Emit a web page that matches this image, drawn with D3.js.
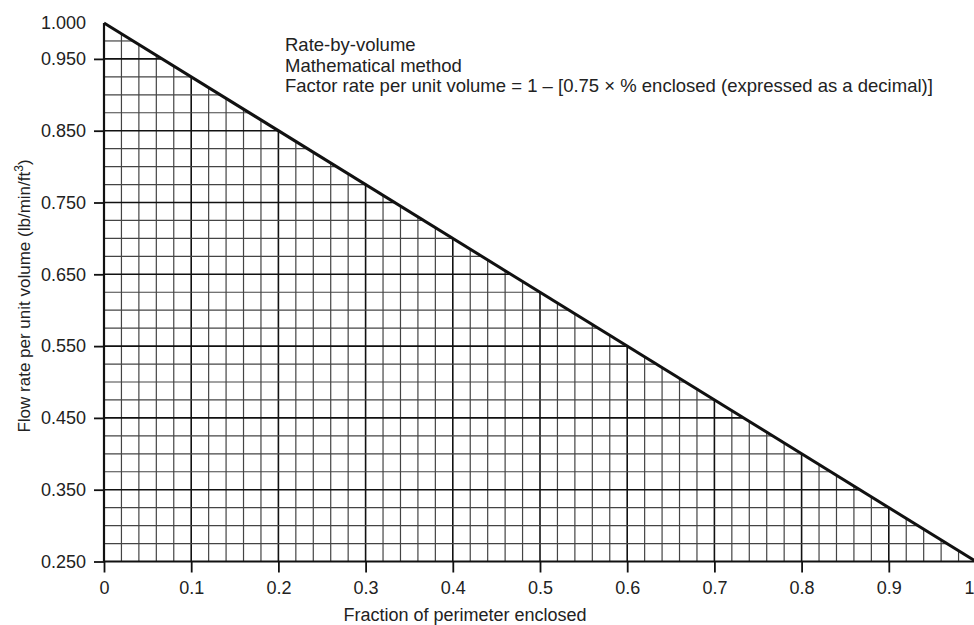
<!DOCTYPE html>
<html>
  <head>
    <style>
      body { margin: 0; background: #fff; }
      svg { display: block; font-family: 'Liberation Sans', Arial, sans-serif; }
    </style>
  </head>
  <body>
    <div class="chart"></div>
    <script src="https://d3js.org/d3.v7.min.js"></script>
    <script>
      // chart values
      var xTicks = [0, 0.1, 0.2, 0.3, 0.4, 0.5, 0.6, 0.7, 0.8, 0.9, 1];
      var xTickLabels = ['0', '0.1', '0.2', '0.3', '0.4', '0.5', '0.6', '0.7', '0.8', '0.9', '1'];
      var yTicks = [1.0, 0.95, 0.85, 0.75, 0.65, 0.55, 0.45, 0.35, 0.25];
      var yTickLabels = ['1.000', '0.950', '0.850', '0.750', '0.650', '0.550', '0.450', '0.350', '0.250'];
      var lineX = [0, 1];
      var lineY = [1.0, 0.25];
      var notes = ['Rate-by-volume', 'Mathematical method',
        'Factor rate per unit volume = 1 \u2013 [0.75 \u00d7 % enclosed (expressed as a decimal)]'];

      var width = 974, height = 625;
      var svg = d3.select('.chart').append('svg')
        .attr('width', width)
        .attr('height', height);

      var x = d3.scaleLinear().domain([0, 1]).range([104, 976]);
      var y = d3.scaleLinear().domain([0.25, 1]).range([561.5, 23]);

      // the sloped line, used to stop grid lines under it
      var lineAt = d3.scaleLinear().domain(lineX).range(lineY);
      var xAtY = d3.scaleLinear().domain(lineY).range(lineX);

      var gridX = d3.range(1, 50).map(function(i) { return i * 0.02; });
      var gridY = d3.range(1, 30).map(function(i) { return 0.25 + i * 0.025; });
      var isMajorX = function(v) { return Math.abs(v * 10 - Math.round(v * 10)) < 1e-6; };
      var isMajorY = function(v) { return Math.abs((v - 0.05) * 10 - Math.round((v - 0.05) * 10)) < 1e-6; };

      var grid = svg.append('g').attr('class', 'grid');
      grid.selectAll('line.v').data(gridX).enter().append('line')
        .attr('class', 'v')
        .attr('x1', function(d) { return x(d); })
        .attr('x2', function(d) { return x(d); })
        .attr('y1', y(0.25))
        .attr('y2', function(d) { return y(lineAt(d)); })
        .attr('stroke', function(d) { return isMajorX(d) ? '#111' : '#444'; })
        .attr('stroke-width', function(d) { return isMajorX(d) ? 1.6 : 1.2; });

      grid.selectAll('line.h').data(gridY).enter().append('line')
        .attr('class', 'h')
        .attr('x1', x(0))
        .attr('x2', function(d) { return x(xAtY(d)); })
        .attr('y1', function(d) { return y(d); })
        .attr('y2', function(d) { return y(d); })
        .attr('stroke', function(d) { return isMajorY(d) ? '#111' : '#444'; })
        .attr('stroke-width', function(d) { return isMajorY(d) ? 1.6 : 1.2; });

      // axes
      var xAxis = d3.axisBottom(x).tickValues(xTicks)
        .tickFormat(function(d, i) { return xTickLabels[i]; })
        .tickSize(11).tickPadding(9);
      var gX = svg.append('g')
        .attr('transform', 'translate(0,' + y(0.25) + ')')
        .call(xAxis);

      var yAxis = d3.axisLeft(y).tickValues(yTicks)
        .tickFormat(function(d, i) { return yTickLabels[i]; })
        .tickSize(10).tickPadding(8);
      var gY = svg.append('g')
        .attr('transform', 'translate(' + x(0) + ',0)')
        .call(yAxis);

      [gX, gY].forEach(function(g) {
        g.select('.domain').remove();
        g.selectAll('.tick line').attr('stroke', '#111').attr('stroke-width', 1.8);
        g.selectAll('.tick text').attr('fill', '#222').style('font-size', '18px');
      });
      // no tick mark at 1.000
      gY.selectAll('.tick').filter(function(d) { return d === 1.0; }).select('line').remove();
      // keep the last x label inside the page edge
      gX.selectAll('.tick').filter(function(d) { return d === 1; }).select('text')
        .attr('text-anchor', 'end').attr('x', 974 - x(1));

      svg.append('line')
        .attr('x1', x(0)).attr('x2', x(1))
        .attr('y1', y(0.25)).attr('y2', y(0.25))
        .attr('stroke', '#111').attr('stroke-width', 2.2);
      svg.append('line')
        .attr('x1', x(0)).attr('x2', x(0))
        .attr('y1', y(0.25)).attr('y2', y(1))
        .attr('stroke', '#111').attr('stroke-width', 2.2);

      // the line itself
      var line = d3.line()
        .x(function(d) { return x(d[0]); })
        .y(function(d) { return y(d[1]); });
      svg.append('path')
        .datum(d3.zip(lineX, lineY))
        .attr('d', line)
        .attr('fill', 'none')
        .attr('stroke', '#111')
        .attr('stroke-width', 3);

      // annotation
      svg.append('g').selectAll('text').data(notes).enter().append('text')
        .attr('x', 285)
        .attr('y', function(d, i) { return 51 + i * 20.5; })
        .attr('fill', '#222')
        .style('font-size', '18.5px')
        .text(function(d) { return d; });

      // axis titles
      svg.append('text')
        .attr('x', 465).attr('y', 621)
        .attr('text-anchor', 'middle')
        .attr('fill', '#222')
        .style('font-size', '18px')
        .text('Fraction of perimeter enclosed');

      var yTitle = svg.append('text')
        .attr('transform', 'translate(30,296) rotate(-90)')
        .attr('text-anchor', 'middle')
        .attr('fill', '#222')
        .style('font-size', '17px');
      yTitle.append('tspan').text('Flow rate per unit volume (lb/min/ft');
      yTitle.append('tspan').attr('baseline-shift', 'super').style('font-size', '12px').text('3');
      yTitle.append('tspan').text(')');
    </script>
  </body>
</html>
